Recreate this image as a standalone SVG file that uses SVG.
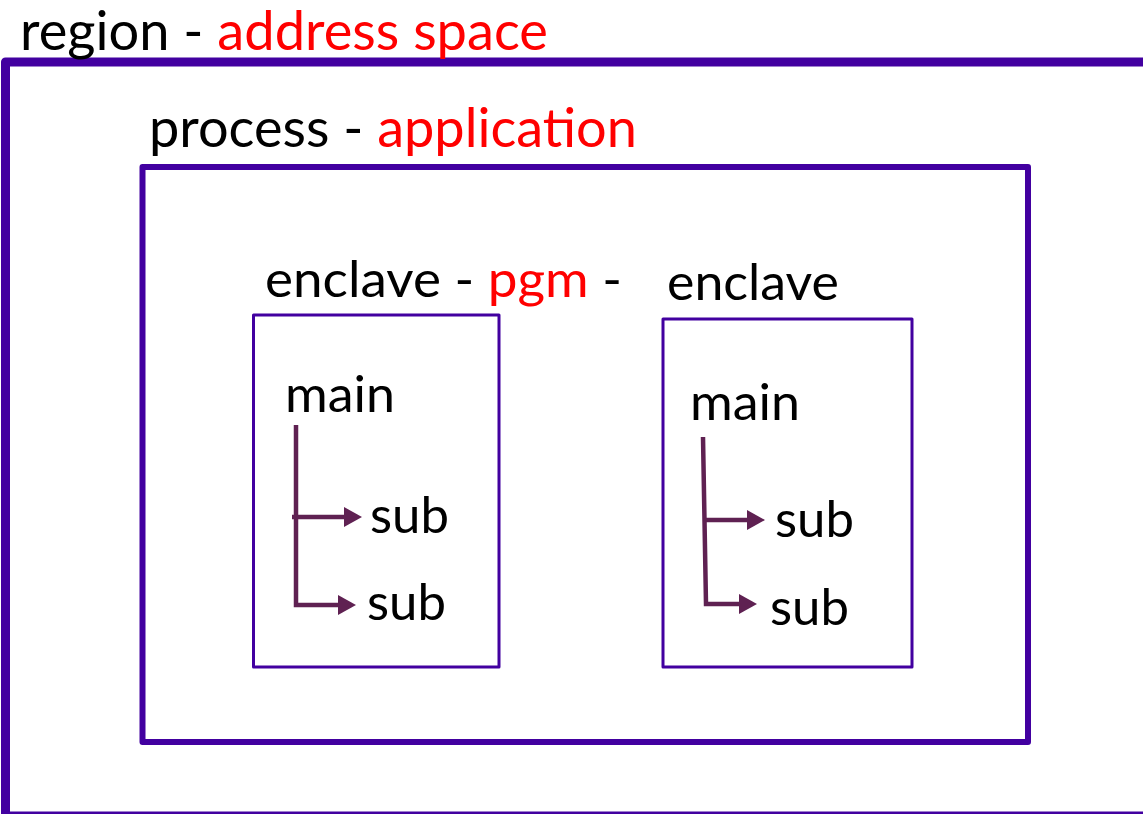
<svg xmlns="http://www.w3.org/2000/svg" width="1143" height="814" viewBox="0 0 1143 814">
<style>
.box{fill:none;stroke:#4200A0;stroke-linejoin:round}
.t{font-family:"Gill Sans","Lato","Liberation Sans",sans-serif;fill:#000}
.r{fill:#FF0000}
.ln{fill:none;stroke:#5F2152;stroke-width:4.5}
.ah{fill:#5F2152}
</style>
<rect width="1143" height="814" fill="#fff"/>
<g id="region">
<rect class="box" x="5.5" y="62" width="1200" height="754" stroke-width="9"/>
<text class="t" x="20" y="50" font-size="54" textLength="528" lengthAdjust="spacingAndGlyphs">region - <tspan class="r">address space</tspan></text>
</g>
<g id="process">
<rect class="box" x="142.5" y="167" width="885.5" height="575" stroke-width="6"/>
<text class="t" x="149" y="147" font-size="54" textLength="488" lengthAdjust="spacingAndGlyphs">process - <tspan class="r">application</tspan></text>
</g>
<g id="enclave1">
<rect class="box" x="253.5" y="315" width="245.5" height="352" stroke-width="3"/>
<text class="t" x="265" y="297" font-size="50" textLength="357" lengthAdjust="spacingAndGlyphs">enclave - <tspan class="r">pgm</tspan> -</text>
</g>
<g id="enclave2">
<rect class="box" x="663" y="319" width="249" height="348" stroke-width="3"/>
<text class="t" x="667" y="300" font-size="50" textLength="172" lengthAdjust="spacingAndGlyphs">enclave</text>
</g>
<g id="main1"><text class="t" x="285" y="412" font-size="50" textLength="110" lengthAdjust="spacingAndGlyphs">main</text></g>
<g id="sub1a"><text class="t" x="370" y="533" font-size="50" textLength="79" lengthAdjust="spacingAndGlyphs">sub</text></g>
<g id="sub1b"><text class="t" x="367" y="620" font-size="50" textLength="79" lengthAdjust="spacingAndGlyphs">sub</text></g>
<g id="main2"><text class="t" x="690" y="420" font-size="50" textLength="110" lengthAdjust="spacingAndGlyphs">main</text></g>
<g id="sub2a"><text class="t" x="775" y="537" font-size="50" textLength="79" lengthAdjust="spacingAndGlyphs">sub</text></g>
<g id="sub2b"><text class="t" x="770" y="625" font-size="50" textLength="79" lengthAdjust="spacingAndGlyphs">sub</text></g>
<g id="connectors">
<path class="ln" d="M296 425 V605 H340"/>
<path class="ln" d="M292 517 H346"/>
<polygon class="ah" points="344,507 362,517 344,527"/>
<polygon class="ah" points="338,595 356,605 338,615"/>
<path class="ln" d="M703 437 L706 604 H741"/>
<path class="ln" d="M705 520 H749"/>
<polygon class="ah" points="747,510 765,520 747,530"/>
<polygon class="ah" points="739,594 757,604 739,614"/>
</g>
</svg>
